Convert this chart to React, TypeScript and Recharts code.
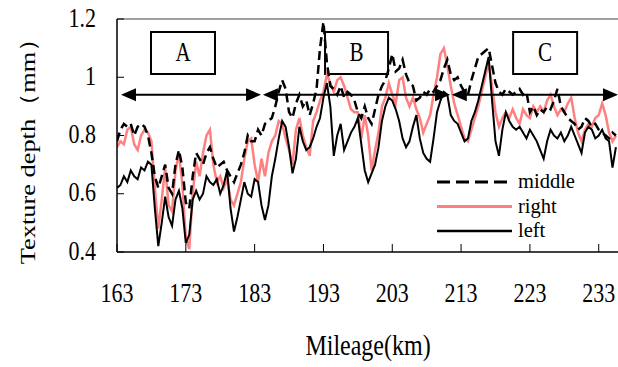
import React from "react";
import {
  LineChart,
  Line,
  XAxis,
  YAxis,
  ReferenceArea,
  ReferenceLine,
  Legend,
} from "recharts";

const SERIF = '"Liberation Serif", "Times New Roman", serif';
// glyphs in this figure are drawn taller than they are wide
const STRETCH = 1.25;

// mileage along the road, km
const mileage = [
  163, 163.5, 164, 164.5, 165, 165.5, 166, 166.5, 167, 167.5,
  168, 168.5, 169, 169.5, 170, 170.5, 171, 171.5, 172, 172.5,
  173, 173.5, 174, 174.5, 175, 175.5, 176, 176.5, 177, 177.5,
  178, 178.5, 179, 179.5, 180, 180.5, 181, 181.5, 182, 182.5,
  183, 183.5, 184, 184.5, 185, 185.5, 186, 186.5, 187, 187.5,
  188, 188.5, 189, 189.5, 190, 190.5, 191, 191.5, 192, 192.5,
  193, 193.5, 194, 194.5, 195, 195.5, 196, 196.5, 197, 197.5,
  198, 198.5, 199, 199.5, 200, 200.5, 201, 201.5, 202, 202.5,
  203, 203.5, 204, 204.5, 205, 205.5, 206, 206.5, 207, 207.5,
  208, 208.5, 209, 209.5, 210, 210.5, 211, 211.5, 212, 212.5,
  213, 213.5, 214, 214.5, 215, 215.5, 216, 216.5, 217, 217.5,
  218, 218.5, 219, 219.5, 220, 220.5, 221, 221.5, 222, 222.5,
  223, 223.5, 224, 224.5, 225, 225.5, 226, 226.5, 227, 227.5,
  228, 228.5, 229, 229.5, 230, 230.5, 231, 231.5, 232, 232.5,
  233, 233.5, 234, 234.5, 235, 235.5,
];

// texture depth, mm
const middleDepth = [
  0.78, 0.82, 0.84, 0.83, 0.84, 0.8, 0.83, 0.84, 0.83, 0.8,
  0.74, 0.66, 0.62, 0.66, 0.7, 0.62, 0.6, 0.7, 0.75, 0.69,
  0.57, 0.55, 0.66, 0.74, 0.72, 0.7, 0.74, 0.76, 0.72, 0.69,
  0.7, 0.71, 0.68, 0.66, 0.64, 0.67, 0.7, 0.74, 0.8, 0.78,
  0.78, 0.82, 0.8, 0.84, 0.85, 0.86, 0.9, 0.95, 0.99, 0.96,
  0.88, 0.86, 0.91, 0.94, 0.9, 0.92, 0.87, 0.91, 0.96, 1.1,
  1.19, 1.05, 0.97, 0.96, 0.94, 0.97, 0.93, 0.95, 0.94, 0.92,
  0.88, 0.86, 0.9, 0.86, 0.84, 0.89, 0.94, 0.97, 0.99, 1.03,
  1.08, 1.02, 1.03, 1.06, 1.01, 0.98, 0.97, 0.92, 0.93, 0.95,
  0.94, 0.96, 0.95, 0.97, 0.99, 1.03, 1.06, 1.01, 0.99, 1.0,
  0.97, 0.95, 0.94, 0.99, 1.03, 1.07, 1.08, 1.09, 1.1, 1.04,
  0.98, 0.95, 0.94, 0.96, 0.95, 0.94, 0.95, 0.96, 0.94, 0.95,
  0.88, 0.9, 0.87, 0.89, 0.88, 0.9, 0.89, 0.92, 0.96, 0.9,
  0.88, 0.86, 0.85, 0.84, 0.82, 0.83, 0.86, 0.85, 0.83, 0.84,
  0.82, 0.81, 0.8, 0.79, 0.81, 0.8,
];

const rightDepth = [
  0.76, 0.78, 0.77, 0.82, 0.83, 0.77, 0.75, 0.8, 0.82, 0.81,
  0.78, 0.62, 0.48, 0.58, 0.69, 0.56, 0.54, 0.68, 0.74, 0.63,
  0.45, 0.41, 0.6, 0.71, 0.66, 0.74, 0.8, 0.82, 0.7, 0.64,
  0.66, 0.62, 0.65, 0.58, 0.56, 0.6, 0.64, 0.72, 0.78, 0.79,
  0.7, 0.64, 0.72, 0.66, 0.74, 0.78, 0.8, 0.85, 0.84, 0.79,
  0.75, 0.7, 0.82, 0.86, 0.8, 0.76, 0.73, 0.85, 0.88, 0.92,
  0.95, 1.01, 0.98, 0.95, 0.99, 1.0, 0.97, 0.93, 0.89, 0.88,
  0.88, 0.79, 0.87, 0.8, 0.68, 0.75, 0.81, 0.9, 0.93, 0.98,
  0.94, 0.91, 0.99, 1.0, 0.93, 0.9, 0.93, 0.89, 0.86, 0.81,
  0.84, 0.87, 0.94, 1.0, 1.08, 1.1, 1.04, 0.97, 0.91, 0.87,
  0.83, 0.79, 0.78, 0.82, 0.86, 0.9, 0.95, 1.0, 1.05, 0.97,
  0.88, 0.83, 0.86, 0.88, 0.86, 0.89, 0.86, 0.84, 0.89, 0.87,
  0.86, 0.9, 0.88, 0.9, 0.88, 0.92, 0.94, 0.9, 0.87, 0.89,
  0.88, 0.91, 0.93, 0.86, 0.81, 0.78, 0.82, 0.84, 0.83, 0.86,
  0.87, 0.91, 0.87, 0.81, 0.78, 0.8,
];

const leftDepth = [
  0.62, 0.63, 0.66, 0.64, 0.68, 0.66, 0.65, 0.69, 0.68, 0.71,
  0.7, 0.55, 0.42, 0.5, 0.59, 0.52, 0.49, 0.58, 0.61, 0.55,
  0.43, 0.46, 0.58, 0.61, 0.58, 0.6, 0.66, 0.64, 0.63, 0.65,
  0.6, 0.63, 0.68, 0.55, 0.47, 0.52, 0.58, 0.64, 0.6, 0.59,
  0.65, 0.64, 0.56, 0.51, 0.56, 0.66, 0.72, 0.79, 0.85, 0.83,
  0.76, 0.67, 0.72, 0.83, 0.78, 0.75, 0.76, 0.79, 0.83, 0.86,
  0.93, 0.98, 0.9, 0.73, 0.8, 0.84, 0.75, 0.78, 0.81, 0.83,
  0.86, 0.77, 0.68, 0.64, 0.67, 0.7, 0.76, 0.85, 0.9, 0.93,
  0.92, 0.89, 0.85, 0.79, 0.76, 0.78, 0.83, 0.87, 0.79, 0.74,
  0.72, 0.71, 0.79, 0.88, 0.92, 0.95, 0.94, 0.87, 0.85, 0.84,
  0.81, 0.78, 0.79, 0.85, 0.88, 0.92, 0.97, 1.02, 1.07, 0.92,
  0.78, 0.73, 0.82, 0.88, 0.85, 0.83, 0.82, 0.83, 0.81, 0.79,
  0.82, 0.8, 0.78, 0.75, 0.72, 0.78, 0.82, 0.8, 0.79, 0.81,
  0.78, 0.8, 0.83, 0.8, 0.77, 0.74, 0.81, 0.83, 0.82, 0.79,
  0.8, 0.82, 0.79, 0.78, 0.69, 0.76,
];

const xTicks = [163, 173, 183, 193, 203, 213, 223, 233];
const yTicks = [0.4, 0.6, 0.8, 1, 1.2];

// road sections: label box and the span of its double arrow
const sections = [
  { name: "A", boxFrom: 167.94, boxTo: 177.24, from: 163.58, to: 183.93 },
  { name: "B", boxFrom: 193.23, boxTo: 202.39, from: 184.2, to: 211.4 },
  { name: "C", boxFrom: 220.56, boxTo: 229.86, from: 211.65, to: 235.8 },
];
const boxBottom = 1.011;
const boxTop = 1.155;
const arrowLevel = 0.94;

const legendRows = [
  { label: "middle", color: "#000", dash: "13 6", width: 3 },
  { label: "right", color: "#ff8080", dash: undefined, width: 3 },
  { label: "left", color: "#000", dash: undefined, width: 2.5 },
];

const data = mileage.map((km, i) => ({
  km,
  middle: middleDepth[i],
  right: rightDepth[i],
  left: leftDepth[i],
}));

function TallText({ x, y, dy = 0, anchor = "middle", size = 22, stretch = STRETCH, children }: any) {
  return (
    <text
      transform={`translate(${x},${y}) scale(1,${stretch})`}
      y={dy}
      textAnchor={anchor}
      fontFamily={SERIF}
      fontSize={size}
      fill="#000"
    >
      {children}
    </text>
  );
}

function MileageTick({ x, y, payload }: any) {
  return (
    <TallText x={x} y={y} dy={16}>
      {payload.value}
    </TallText>
  );
}

function DepthTick({ x, y, payload }: any) {
  return (
    <TallText x={x} y={y} dy={6} anchor="end">
      {String(payload.value)}
    </TallText>
  );
}

function DoubleArrow(props: any) {
  const { x1, y1, x2, y2 } = props;
  const len = 15;
  const half = 6.5;
  return (
    <g>
      <line x1={x1 + 4} y1={y1} x2={x2 - 4} y2={y2} stroke="#000" strokeWidth={2} />
      <polygon points={`${x1},${y1} ${x1 + len},${y1 - half} ${x1 + len},${y1 + half}`} fill="#000" />
      <polygon points={`${x2},${y2} ${x2 - len},${y2 - half} ${x2 - len},${y2 + half}`} fill="#000" />
    </g>
  );
}

function BoxLabel({ viewBox, value }: any) {
  const { x, y, width, height } = viewBox;
  return (
    <TallText x={x + width / 2} y={y + height / 2} dy={6} size={21}>
      {value}
    </TallText>
  );
}

function SeriesLegend() {
  return (
    <svg width={181} height={82}>
      {legendRows.map((row, i) => {
        const y = 15 + i * 24.5;
        return (
          <g key={row.label}>
            <line
              x1={0}
              x2={75}
              y1={y}
              y2={y}
              stroke={row.color}
              strokeWidth={row.width}
              strokeDasharray={row.dash}
            />
            <TallText x={81} y={y} dy={6} anchor="start" size={20.5} stretch={1}>
              {row.label}
            </TallText>
          </g>
        );
      })}
    </svg>
  );
}

export default function App() {
  return (
    <div style={{ position: "absolute", left: 0, top: 0, width: 618, height: 367, background: "#fff" }}>
      <LineChart
        width={618}
        height={367}
        data={data}
        margin={{ top: 19, right: 0, bottom: 0, left: 0 }}
      >
        <XAxis
          type="number"
          dataKey="km"
          domain={[163, 235.8]}
          ticks={xTicks}
          allowDataOverflow
          height={115}
          axisLine={{ stroke: "#000", strokeWidth: 1.5 }}
          tickLine={{ stroke: "#000", strokeWidth: 1 }}
          tickSize={-8}
          tickMargin={38}
          tick={MileageTick}
          label={{
            content: () => (
              <TallText x={368} y={340} dy={12} size={24}>
                Mileage(km)
              </TallText>
            ),
          }}
        />
        <YAxis
          type="number"
          domain={[0.4, 1.2]}
          ticks={yTicks}
          allowDataOverflow
          width={117}
          axisLine={{ stroke: "#000", strokeWidth: 1.5 }}
          tickLine={{ stroke: "#000", strokeWidth: 1 }}
          tickSize={-7}
          tickMargin={28}
          tick={DepthTick}
          label={{
            content: () => (
              <text
                transform="translate(35,145) scale(1,1.2) rotate(-90)"
                textAnchor="middle"
                fontFamily={SERIF}
                fontSize={22}
                fill="#000"
              >
                Texture depth（mm）
              </text>
            ),
          }}
        />
        <ReferenceLine y={1.2} stroke="#a0a0a0" strokeWidth={2} />
        <Line
          dataKey="right"
          stroke="#ff8080"
          strokeWidth={2.5}
          dot={false}
          isAnimationActive={false}
        />
        <Line
          dataKey="middle"
          stroke="#000"
          strokeWidth={2.5}
          strokeDasharray="9 5"
          dot={false}
          isAnimationActive={false}
        />
        <Line
          dataKey="left"
          stroke="#000"
          strokeWidth={2}
          dot={false}
          isAnimationActive={false}
        />
        {sections.map((s) => (
          <ReferenceLine
            key={`arrow-${s.name}`}
            segment={[
              { x: s.from, y: arrowLevel },
              { x: s.to, y: arrowLevel },
            ]}
            ifOverflow="visible"
            shape={DoubleArrow}
          />
        ))}
        {sections.map((s) => (
          <ReferenceArea
            key={`box-${s.name}`}
            x1={s.boxFrom}
            x2={s.boxTo}
            y1={boxBottom}
            y2={boxTop}
            fill="#fff"
            fillOpacity={1}
            stroke="#000"
            strokeWidth={2}
            label={{ value: s.name, content: BoxLabel }}
          />
        ))}
        <Legend
          layout="vertical"
          align="center"
          verticalAlign="middle"
          content={() => <SeriesLegend />}
          wrapperStyle={{ left: 437, top: 167, width: 181, height: 82 }}
        />
      </LineChart>
    </div>
  );
}
